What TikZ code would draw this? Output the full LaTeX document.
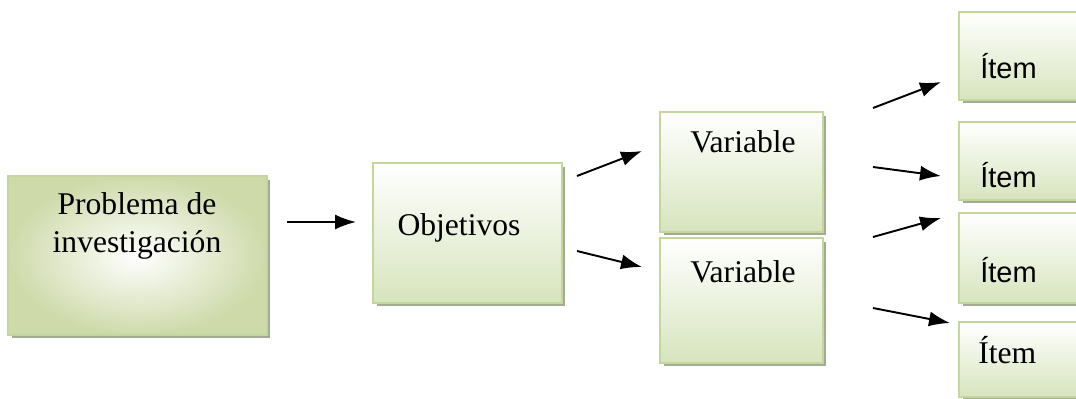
\documentclass[tikz,border=0pt]{standalone}
\usepackage{fontspec}
\setmainfont{Liberation Serif}
\newfontfamily\arialfont{Liberation Sans}
\usetikzlibrary{calc,arrows.meta,shadows}

\definecolor{boxline}{HTML}{C3D69B}
\definecolor{boxfill}{HTML}{D7E4BD}
\definecolor{boxshadow}{HTML}{A3AB95}

\tikzset{
    box/.style={draw=boxline, line width=1.5pt, inner sep=0pt, top color=white, bottom color=boxfill,
        drop shadow={shadow xshift=0.07cm, shadow yshift=-0.07cm, fill=boxshadow, opacity=1}},
    txt/.style={inner sep=0pt, font=\fontsize{18}{21.6}\selectfont},
    stxt/.style={inner sep=0pt, font=\arialfont\fontsize{16.5}{19}\selectfont},
    arr/.style={line width=1.1pt, -{Latex[length=0.42cm,width=0.3cm]}}
}

\begin{document}
\begin{tikzpicture}[x=0.02cm, y=-0.02cm]
    \clip (0,0) rectangle (1076,399);
    % boxes
    \node[box, minimum width=5.18cm, minimum height=3.18cm, shading=radial, inner color=white, outer color=boxfill!90!olive] at (137.5,255.5) (prob) {};
    \node[box, minimum width=3.78cm, minimum height=2.80cm] at (467.5,233) (obj) {};
    \node[box, minimum width=3.26cm, minimum height=2.40cm] at (741.5,172) (var1) {};
    \node[box, minimum width=3.26cm, minimum height=2.50cm] at (741.5,300.5) (var2) {};
    \node[box, minimum width=3.00cm, minimum height=1.76cm] at (1034,56) (it1) {};
    \node[box, minimum width=3.00cm, minimum height=1.56cm] at (1034,161) (it2) {};
    \node[box, minimum width=3.00cm, minimum height=1.80cm] at (1034,258) (it3) {};
    \node[box, minimum width=3.00cm, minimum height=1.50cm] at (1034,359.5) (it4) {};
    % texts
    \node[txt, align=center] at (137,226) (probtxt) {Problema de\\investigación};
    \node[txt] at (459,228) (objtxt) {Objetivos};
    \node[txt] at (743,142) (var1txt) {Variable};
    \node[txt] at (743,272) (var2txt) {Variable};
    \node[stxt, anchor=base west] at (980,78) (it1txt) {Ítem};
    \node[stxt, anchor=base west] at (980,187) (it2txt) {Ítem};
    \node[stxt, anchor=base west] at (980,282) (it3txt) {Ítem};
    \node[txt, anchor=base west] at (978,363) (it4txt) {Ítem};
    % arrow ends
    \coordinate (a1s) at (287,222); \coordinate (a1e) at (356,222);
    \coordinate (a2s) at (577,176); \coordinate (a2e) at (642,151);
    \coordinate (a3s) at (577,251); \coordinate (a3e) at (642,267);
    \coordinate (a4s) at (873,108); \coordinate (a4e) at (941,82);
    \coordinate (a5s) at (873,167); \coordinate (a5e) at (941,176);
    \coordinate (a6s) at (873,237); \coordinate (a6e) at (941,218);
    \coordinate (a7s) at (873,308); \coordinate (a7e) at (950,323);
    \draw[arr] (a1s) -- (a1e);
    \draw[arr] (a2s) -- (a2e);
    \draw[arr] (a3s) -- (a3e);
    \draw[arr] (a4s) -- (a4e);
    \draw[arr] (a5s) -- (a5e);
    \draw[arr] (a6s) -- (a6e);
    \draw[arr] (a7s) -- (a7e);
\end{tikzpicture}
\end{document}
